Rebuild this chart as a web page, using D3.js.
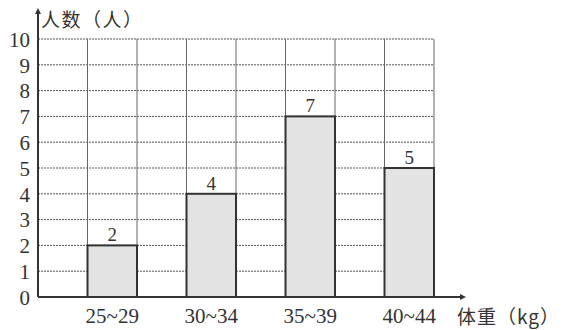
<!DOCTYPE html>
<html><head><meta charset="utf-8">
<script src="https://cdn.jsdelivr.net/npm/d3@7"></script>
<style>body{margin:0;background:#fff}svg{display:block}
.num{font-family:"Liberation Serif","DejaVu Serif",serif !important;}
.cjk{font-family:"Noto Sans CJK SC",sans-serif;}</style>
</head><body>
<svg id="c" width="575" height="330"></svg>
<script>
const categories = ["25~29", "30~34", "35~39", "40~44"];
const counts = [2, 4, 7, 5];
const yTicks = [0,1,2,3,4,5,6,7,8,9,10];
const yTitle = "人数（人）";
const xTitle = "体重（kg）";

(function () {
const svg = d3.select("#c");
const mLeft = 38, mRight = 434, mTop = 39, mBottom = 297;
const y = d3.scaleLinear().domain([0, 10]).range([mBottom, mTop]);
const grid = d3.scaleLinear().domain([0, 8]).range([mLeft, mRight]);
const x = d3.scaleBand().domain(categories).range([mLeft, mRight])
  .paddingInner(0.5).paddingOuter(0.25).align(1);

const ink = "#333";
// horizontal grid
svg.append("g").selectAll("line").data(yTicks.slice(1)).join("line")
  .attr("x1", mLeft).attr("x2", mRight)
  .attr("y1", d => y(d)).attr("y2", d => y(d))
  .attr("stroke", "#555").attr("stroke-width", 1).attr("stroke-dasharray", "2,1");
// vertical grid
svg.append("g").selectAll("line").data(d3.range(1, 9)).join("line")
  .attr("x1", d => grid(d)).attr("x2", d => grid(d))
  .attr("y1", mTop).attr("y2", mBottom)
  .attr("stroke", "#666").attr("stroke-width", 1);

// bars
svg.append("g").selectAll("rect").data(counts).join("rect")
  .attr("x", (d, i) => x(categories[i]))
  .attr("y", d => y(d))
  .attr("width", x.bandwidth())
  .attr("height", d => y(0) - y(d))
  .attr("fill", "#e3e3e3").attr("stroke", ink).attr("stroke-width", 2);

// value labels
svg.append("g").selectAll("text").data(counts).join("text")
  .attr("class", "num")
  .attr("x", (d, i) => x(categories[i]) + x.bandwidth() / 2)
  .attr("y", d => y(d) - 4)
  .attr("text-anchor", "middle")
  .style("font-size", "19px").attr("fill", ink)
  .text(d => d);

// y axis labels
const ya = svg.append("g").attr("transform", `translate(${mLeft},0)`)
  .call(d3.axisLeft(y).tickValues(yTicks).tickSize(0).tickPadding(8));
ya.attr("font-family", null).attr("font-size", null);
ya.select(".domain").remove();
ya.selectAll("text").attr("class", "num").style("font-size", "21px")
  .attr("fill", ink).attr("dy", "0.35em");

// x axis labels
const xa = svg.append("g").attr("transform", `translate(0,${mBottom})`)
  .call(d3.axisBottom(x).tickSize(0).tickPadding(11));
xa.attr("font-family", null).attr("font-size", null);
xa.select(".domain").remove();
xa.selectAll("text").attr("class", "num").style("font-size", "21px").attr("fill", ink);

// axes lines with arrows
svg.append("line").attr("x1", mLeft).attr("x2", 460).attr("y1", mBottom).attr("y2", mBottom)
  .attr("stroke", ink).attr("stroke-width", 2);
svg.append("path").attr("d", `M460,${mBottom-3}L466,${mBottom}L460,${mBottom+3}Z`).attr("fill", ink);
svg.append("line").attr("x1", mLeft).attr("x2", mLeft).attr("y1", mBottom).attr("y2", 12)
  .attr("stroke", ink).attr("stroke-width", 2);
svg.append("path").attr("d", `M${mLeft-3},14L${mLeft},8L${mLeft+3},14Z`).attr("fill", ink);

// titles
svg.append("text").attr("class", "cjk").attr("x", 41).attr("y", 27)
  .style("font-size", "19px").attr("fill", ink)
  .attr("letter-spacing", 1.5).text(yTitle);
svg.append("text").attr("class", "cjk").attr("x", 457).attr("y", 324)
  .style("font-size", "19px").attr("fill", ink)
  .attr("letter-spacing", 1).text(xTitle);
})();
</script>
</body></html>
